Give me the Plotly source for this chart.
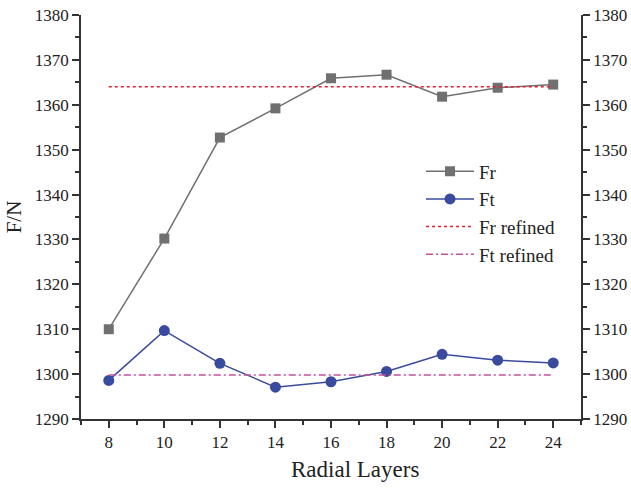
import plotly.graph_objects as go

# Radial layer counts and the resulting forces
layers = [8, 10, 12, 14, 16, 18, 20, 22, 24]
fr_values = [1310.0, 1330.2, 1352.7, 1359.2, 1365.9, 1366.7, 1361.8, 1363.8, 1364.5]
ft_values = [1298.6, 1309.7, 1302.4, 1297.1, 1298.3, 1300.6, 1304.4, 1303.1, 1302.5]
fr_refined = 1364.0
ft_refined = 1299.8

y_ticks = [1290, 1300, 1310, 1320, 1330, 1340, 1350, 1360, 1370, 1380]
x_ticks = [8, 10, 12, 14, 16, 18, 20, 22, 24]

font_family = "Liberation Serif, Times New Roman, serif"
axis_color = "#333333"

fig = go.Figure()

fig.add_trace(go.Scatter(
    x=layers, y=fr_values, name="Fr", mode="lines+markers",
    line=dict(color="#707070", width=1.5),
    marker=dict(symbol="square", size=10, color="#707070"),
))
fig.add_trace(go.Scatter(
    x=layers, y=ft_values, name="Ft", mode="lines+markers",
    line=dict(color="#3a4a9e", width=1.5),
    marker=dict(symbol="circle", size=11, color="#3a4a9e"),
))
fig.add_trace(go.Scatter(
    x=[layers[0], layers[-1]], y=[fr_refined, fr_refined], name="Fr refined",
    mode="lines", line=dict(color="#e0202c", width=1.5, dash="3px,3px"),
))
fig.add_trace(go.Scatter(
    x=[layers[0], layers[-1]], y=[ft_refined, ft_refined], name="Ft refined",
    mode="lines", line=dict(color="#c4509c", width=1.5, dash="7px,3px,2px,3px"),
))
# invisible trace to carry the right-hand axis
fig.add_trace(go.Scatter(
    x=[layers[0]], y=[y_ticks[0]], yaxis="y2", mode="markers",
    marker=dict(opacity=0), showlegend=False, hoverinfo="skip",
))

tick_font = dict(family=font_family, size=17, color="#222222")

yaxis_common = dict(
    range=[1290, 1380], tickvals=y_ticks, showgrid=False, zeroline=False,
    showline=True, linecolor=axis_color, linewidth=1.5, automargin=False,
    ticks="outside", ticklen=7, tickwidth=1.5, tickcolor=axis_color,
    minor=dict(ticks="outside", dtick=5, ticklen=4, tickwidth=1.5, tickcolor=axis_color),
    tickfont=tick_font,
)

fig.update_layout(
    width=631, height=488,
    margin=dict(l=81, r=50, t=15, b=69),
    paper_bgcolor="white", plot_bgcolor="white",
    font=dict(family=font_family, color="#222222"),
    xaxis=dict(
        range=[7, 25], tickvals=x_ticks, showgrid=False, zeroline=False,
        showline=True, linecolor=axis_color, linewidth=1.5, automargin=False,
        ticks="outside", ticklen=7, tickwidth=1.5, tickcolor=axis_color,
        minor=dict(ticks="outside", dtick=1, ticklen=4, tickwidth=1.5, tickcolor=axis_color),
        tickfont=tick_font,
    ),
    yaxis=dict(
        **yaxis_common,
        title=dict(text="F/N", font=dict(family=font_family, size=21), standoff=7),
    ),
    yaxis2=dict(**yaxis_common, overlaying="y", side="right"),
    legend=dict(
        x=0.68, y=0.66, xanchor="left", yanchor="top",
        bgcolor="rgba(0,0,0,0)", font=dict(family=font_family, size=19),
        tracegroupgap=0, itemwidth=48,
    ),
    showlegend=True,
    annotations=[dict(
        text="Radial Layers", xref="paper", yref="paper", x=0.548, y=-0.09,
        xanchor="center", yanchor="top", showarrow=False,
        font=dict(family=font_family, size=23, color="#222222"),
    )],
)

fig.write_html("out.html")
